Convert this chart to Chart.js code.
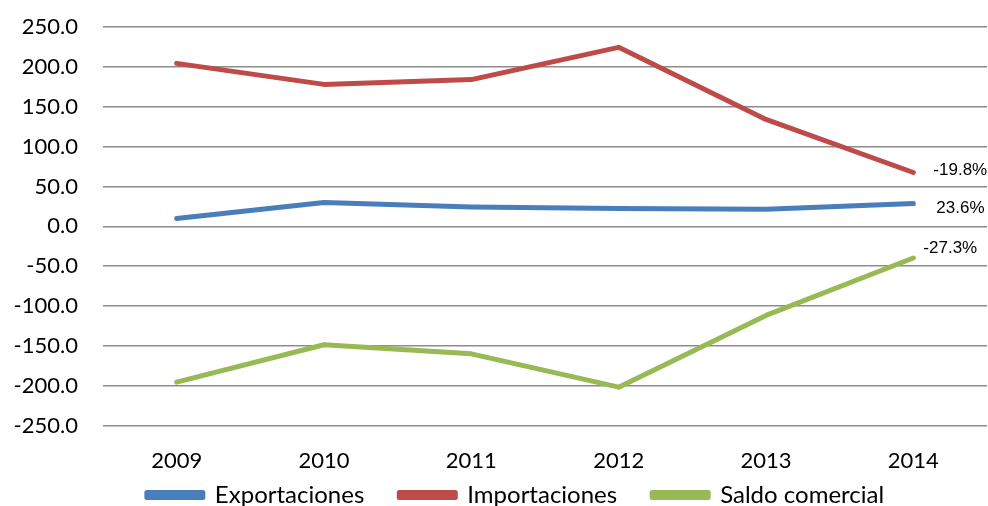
<!DOCTYPE html>
<html>
<head>
<meta charset="utf-8">
<script src="https://cdn.jsdelivr.net/npm/chart.js@4"></script>
<style>
  html, body { margin: 0; padding: 0; background: #fff; overflow: hidden; }
  #wrap { width: 988px; height: 506px; overflow: hidden; }
</style>
</head>
<body>
<div id="wrap"><canvas id="chart" width="988" height="557"></canvas></div>
<script>
const years = ['2009', '2010', '2011', '2012', '2013', '2014'];
const exportaciones = [9.7, 29.8, 24.2, 22.2, 21.4, 28.5];
const importaciones = [204.4, 178.0, 184.0, 224.5, 134.0, 67.5];
const saldoComercial = [-195.5, -148.6, -160.0, -201.8, -111.8, -39.8];
const endLabels = ['23.6%', '-19.8%', '-27.3%'];

// desplazamiento de las etiquetas finales (x, y) respecto al último punto
const labelOffsets = [[23, 5], [20, -2], [10, -10]];

const endLabelPlugin = {
    id: 'endLabels',
    afterDatasetsDraw(chart) {
        const ctx = chart.ctx;
        ctx.save();
        ctx.font = '17px "Liberation Sans Narrow", "Liberation Sans", Arial, sans-serif';
        ctx.fillStyle = '#000';
        ctx.textBaseline = 'middle';
        ctx.textAlign = 'left';
        chart.data.datasets.forEach((ds, i) => {
            const meta = chart.getDatasetMeta(i);
            const pt = meta.data[meta.data.length - 1];
            ctx.fillText(endLabels[i], pt.x + labelOffsets[i][0], pt.y + labelOffsets[i][1]);
        });
        ctx.restore();
    }
};

// sube la leyenda para que quede pegada a las etiquetas del eje x
const legendShift = {
    id: 'legendShift',
    afterLayout(chart) {
        const lg = chart.legend;
        lg.top -= 40;
        lg.bottom -= 40;
        lg.left += 22;
        lg.right += 22;
    }
};

const ctx = document.getElementById('chart').getContext('2d');
new Chart(ctx, {
    type: 'line',
    data: {
        labels: years,
        datasets: [{
            label: 'Exportaciones',
            data: exportaciones,
            borderColor: '#4a7ebb',
            backgroundColor: '#4a7ebb'
        }, {
            label: 'Importaciones',
            data: importaciones,
            borderColor: '#be4b48',
            backgroundColor: '#be4b48'
        }, {
            label: 'Saldo comercial',
            data: saldoComercial,
            borderColor: '#98b954',
            backgroundColor: '#98b954'
        }]
    },
    options: {
        responsive: false,
        animation: false,
        elements: {
            line: { borderWidth: 5, tension: 0, borderCapStyle: 'round', borderJoinStyle: 'round' },
            point: { radius: 0, hoverRadius: 0 }
        },
        layout: {
            padding: { top: 27, right: 1, left: 0, bottom: 0 }
        },
        plugins: {
            tooltip: { enabled: false },
            legend: {
                position: 'bottom',
                labels: {
                    boxWidth: 56,
                    boxHeight: 5,
                    color: '#000',
                    padding: 35,
                    font: { family: 'Lato', size: 24 }
                }
            }
        },
        scales: {
            x: {
                offset: true,
                grid: { display: false },
                border: { display: false },
                ticks: {
                    color: '#000',
                    padding: 14,
                    font: { family: 'Lato', size: 22 }
                }
            },
            y: {
                min: -250,
                max: 250,
                afterFit(scale) { scale.width = 103; },
                grid: { color: '#8c8c8c', lineWidth: 1.5, drawTicks: true, tickLength: 22, tickColor: 'rgba(0,0,0,0)' },
                border: { display: false },
                ticks: {
                    stepSize: 50,
                    color: '#000',
                    padding: 3,
                    font: { family: 'Lato', size: 22 },
                    callback: v => v.toFixed(1)
                }
            }
        }
    },
    plugins: [endLabelPlugin, legendShift]
});
</script>
</body>
</html>
